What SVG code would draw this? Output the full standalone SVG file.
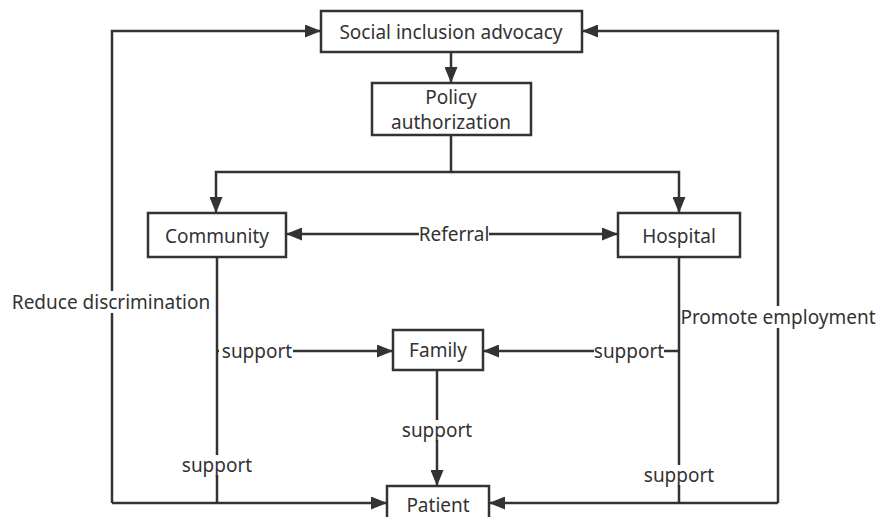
<svg xmlns="http://www.w3.org/2000/svg" width="877" height="517" viewBox="0 0 877 517">
<style>
.box{fill:#fff;stroke:#333;stroke-width:2.5}
.ln{fill:none;stroke:#333;stroke-width:2.5}
text{font-family:"Noto Sans","Open Sans",sans-serif;font-size:19px;fill:#333;text-anchor:middle;dominant-baseline:central}
.lb{fill:#fff}
</style>
<defs>
<marker id="ah" viewBox="0 0 16 13" refX="16" refY="6.5" markerWidth="16" markerHeight="13" markerUnits="userSpaceOnUse" orient="auto">
<path d="M0,0 L16,6.5 L0,13 Z" fill="#333"/>
</marker>
</defs>
<rect width="877" height="517" fill="#fff"/>
<g id="connectors">
<path class="ln" d="M451,52 V83" marker-end="url(#ah)"/>
<path class="ln" d="M451,135 V172 H216 V213" marker-end="url(#ah)"/>
<path class="ln" d="M451,172 H679 V213" marker-end="url(#ah)"/>
<path class="ln" d="M420,234 H286" marker-end="url(#ah)"/>
<path class="ln" d="M420,234 H618" marker-end="url(#ah)"/>
<path class="ln" d="M217,257 V503"/>
<path class="ln" d="M217,351 H393" marker-end="url(#ah)"/>
<path class="ln" d="M679,257 V503"/>
<path class="ln" d="M679,351 H483" marker-end="url(#ah)"/>
<path class="ln" d="M437,370 V486" marker-end="url(#ah)"/>
<path class="ln" d="M112,503 H387" marker-end="url(#ah)"/>
<path class="ln" d="M112,503 V31 H321" marker-end="url(#ah)"/>
<path class="ln" d="M778,503 H489" marker-end="url(#ah)"/>
<path class="ln" d="M778,503 V31 H582" marker-end="url(#ah)"/>
<rect class="lb" x="419" y="224" width="70" height="20"/>
<text x="454" y="234">Referral</text>
<rect class="lb" x="219" y="341" width="74" height="20"/>
<text x="257" y="351">support</text>
<rect class="lb" x="594" y="341" width="70" height="20"/>
<text x="629" y="351">support</text>
<rect class="lb" x="402" y="420" width="70" height="20"/>
<text x="437" y="430">support</text>
<rect class="lb" x="182" y="455" width="70" height="20"/>
<text x="217" y="465">support</text>
<rect class="lb" x="644" y="465" width="70" height="20"/>
<text x="679" y="475">support</text>
<rect class="lb" x="13" y="291" width="197" height="22"/>
<text x="111" y="302">Reduce discrimination</text>
<rect class="lb" x="681" y="306" width="194" height="22"/>
<text x="778" y="317">Promote employment</text>
</g>
<g id="social"><rect class="box" x="321" y="11" width="261" height="41"/><text x="451" y="32">Social inclusion advocacy</text></g>
<g id="policy"><rect class="box" x="372" y="83" width="159" height="52"/><text x="451" y="97">Policy</text><text x="451" y="122">authorization</text></g>
<g id="community"><rect class="box" x="148" y="213" width="138" height="44"/><text x="217" y="236">Community</text></g>
<g id="hospital"><rect class="box" x="618" y="213" width="122" height="44"/><text x="679" y="236">Hospital</text></g>
<g id="family"><rect class="box" x="393" y="330" width="90" height="40"/><text x="438" y="350">Family</text></g>
<g id="patient"><rect class="box" x="387" y="486" width="102" height="44"/><text x="438" y="505">Patient</text></g>
</svg>
